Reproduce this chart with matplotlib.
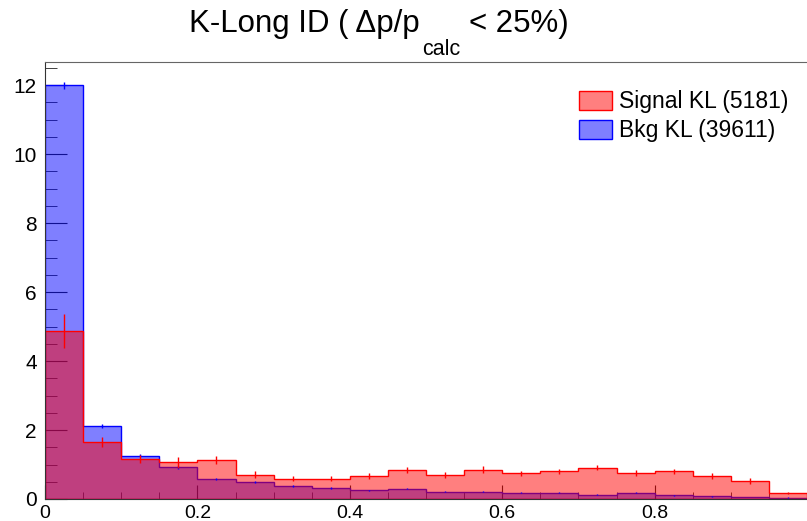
import numpy as np
import matplotlib
matplotlib.use('Agg')
import matplotlib.pyplot as plt
from matplotlib.ticker import MultipleLocator

plt.rcParams['font.family'] = ['Liberation Sans', 'DejaVu Sans']

# 20 bins from 0 to 1
bin_edges = np.linspace(0, 1, 21)

# Signal KL (normalized)
sig_vals = [4.87, 1.65, 1.15, 1.06, 1.13, 0.71, 0.59, 0.59, 0.67, 0.84,
            0.70, 0.85, 0.74, 0.80, 0.91, 0.76, 0.80, 0.66, 0.52, 0.17]
sig_errs = [0.50, 0.15, 0.12, 0.15, 0.12, 0.10, 0.08, 0.08, 0.08, 0.08,
            0.08, 0.10, 0.08, 0.08, 0.08, 0.08, 0.08, 0.08, 0.08, 0.03]

# Bkg KL (normalized)
bkg_vals = [12.0, 2.12, 1.26, 0.92, 0.59, 0.49, 0.37, 0.33, 0.25, 0.30,
            0.21, 0.21, 0.18, 0.18, 0.13, 0.18, 0.11, 0.08, 0.06, 0.04]
bkg_errs = [0.10, 0.06, 0.04, 0.04, 0.03, 0.03, 0.03, 0.03, 0.02, 0.02,
            0.02, 0.02, 0.02, 0.02, 0.02, 0.02, 0.02, 0.02, 0.01, 0.01]

sig_label = 'Signal KL (5181)'
bkg_label = 'Bkg KL (39611)'

fig = plt.figure(figsize=(8.07, 5.21), dpi=100)
ax = fig.add_axes([45 / 807, 22 / 521, 1 - 45 / 807, 437 / 521])

centers = 0.5 * (bin_edges[:-1] + bin_edges[1:])

# 背景先畫, 訊號疊在上面
ax.hist(centers, bins=bin_edges, weights=bkg_vals, histtype='stepfilled',
        facecolor=(0, 0, 1, 0.5), edgecolor='blue', linewidth=1, label=bkg_label)
ax.hist(centers, bins=bin_edges, weights=sig_vals, histtype='stepfilled',
        facecolor=(1, 0, 0, 0.5), edgecolor='red', linewidth=1, label=sig_label)

ax.errorbar(centers, bkg_vals, yerr=bkg_errs, fmt='none', ecolor='blue', elinewidth=1)
ax.errorbar(centers, sig_vals, yerr=sig_errs, fmt='none', ecolor='red', elinewidth=1)

ax.set_xlim(0, 1)
ax.set_ylim(0, 12.67)

ax.set_axisbelow(True)
ax.xaxis.set_major_locator(MultipleLocator(0.2))
ax.xaxis.set_minor_locator(MultipleLocator(0.05))
ax.yaxis.set_major_locator(MultipleLocator(2))
ax.yaxis.set_minor_locator(MultipleLocator(0.5))
ax.tick_params(which='both', direction='in', top=False, right=False, color='#222222')
ax.tick_params(axis='y', which='major', length=16, labelsize=15, pad=6)
ax.tick_params(axis='y', which='minor', length=8.5)
ax.tick_params(axis='x', which='major', length=10, labelsize=14, pad=4)
ax.tick_params(axis='x', which='minor', length=5)
ax.set_xticks([0, 0.2, 0.4, 0.6, 0.8])
ax.set_xticklabels(['0', '0.2', '0.4', '0.6', '0.8'])

ax.spines['right'].set_visible(False)
for s in ['left', 'bottom']:
    ax.spines[s].set_color('#333333')
ax.spines['top'].set_color('#666666')

handles, labels = ax.get_legend_handles_labels()
ax.legend(handles[::-1], labels[::-1], loc='upper left', bbox_to_anchor=(0.7008, 0.935),
          frameon=False, fontsize=16.5, handlelength=1.45, handleheight=0.9,
          handletextpad=0.3, labelspacing=0.25, borderpad=0, borderaxespad=0)

# 標題 (下標分開畫)
base_y = 1 - 32 / 521
sub_y = 1 - 55 / 521
t1 = fig.text(189 / 807, base_y, 'K-Long ID ( Δp/p', ha='left', va='baseline', fontsize=22.5)
t2 = ax.annotate('calc', xy=(1, sub_y), xycoords=(t1, 'figure fraction'), xytext=(2, 0),
                 textcoords='offset points', ha='left', va='baseline', fontsize=15.5,
                 annotation_clip=False)
t3 = ax.annotate('<', xy=(1, base_y), xycoords=(t2, 'figure fraction'), xytext=(6, 0),
                 textcoords='offset points', ha='left', va='baseline', fontsize=22.5,
                 annotation_clip=False)
t4 = ax.annotate(' 25%)', xy=(1, base_y), xycoords=(t3, 'figure fraction'), xytext=(0, 0),
                 textcoords='offset points', ha='left', va='baseline', fontsize=22.5,
                 annotation_clip=False)

fig.savefig('out.png', dpi=100)
